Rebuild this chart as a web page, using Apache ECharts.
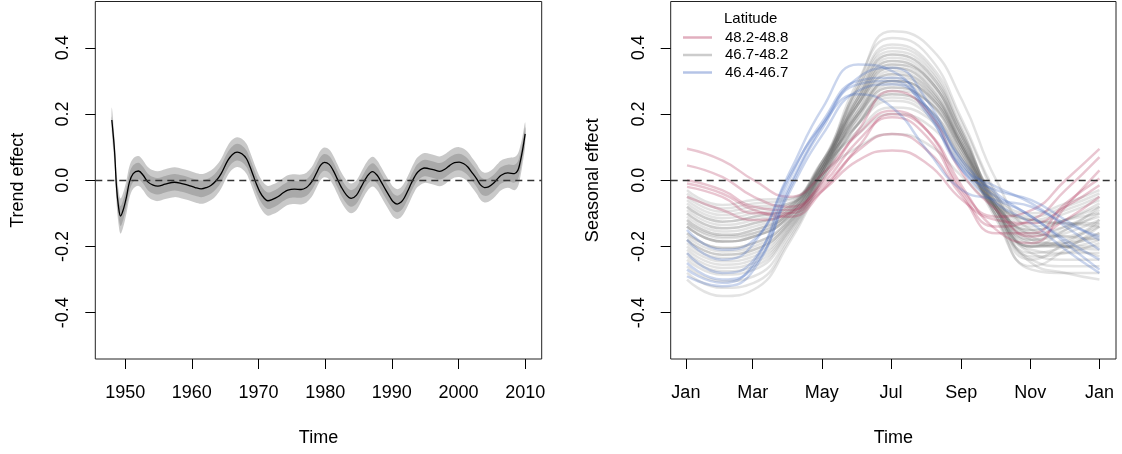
<!DOCTYPE html>
<html>
<head>
<meta charset="utf-8">
<script src="https://cdn.jsdelivr.net/npm/echarts@6/dist/echarts.min.js"></script>
<style>
  html, body { margin: 0; padding: 0; background: #fff; }
  #chart { width: 1122px; height: 454px; }
</style>
</head>
<body>
<div id="chart"></div>
<script>
// ---- left panel: long-term trend ----
const trendYears = [
  1948.0, 1948.4, 1948.7, 1949.0, 1949.3, 1949.7, 1950.2, 1950.65, 1951.2, 1952.0,
  1952.7, 1953.4, 1954.2, 1954.9, 1956.0, 1957.4, 1958.5, 1959.4, 1960.5, 1961.4,
  1962.2, 1962.9, 1963.7, 1964.4, 1965.4, 1966.1, 1966.8, 1967.5, 1968.2, 1968.7,
  1969.2, 1969.7, 1970.2, 1970.8, 1971.4, 1972.1, 1972.9, 1973.7, 1974.4, 1975.4,
  1976.4, 1977.2, 1977.7, 1978.2, 1978.7, 1979.3, 1979.9, 1980.6, 1981.2, 1981.8,
  1982.4, 1983.2, 1983.9, 1984.7, 1985.4, 1986.3, 1987.1, 1987.8, 1988.4, 1989.1,
  1989.7, 1990.2, 1990.8, 1991.4, 1991.9, 1992.4, 1992.9, 1993.4, 1993.9, 1994.9,
  1996.2, 1997.2, 1998.0, 1998.7, 1999.4, 2000.1, 2000.8, 2001.4, 2002.0, 2002.7,
  2003.3, 2003.9, 2004.5, 2005.2, 2005.8, 2006.4, 2007.4, 2008.4, 2008.9, 2009.2,
  2009.6, 2010.0
];
const trendFit = [
  0.182, 0.090, -0.020, -0.080, -0.108, -0.090, -0.050, -0.005, 0.020, 0.028,
  0.015, -0.005, -0.015, -0.018, -0.012, -0.006, -0.010, -0.015, -0.022, -0.026,
  -0.022, -0.015, 0.000, 0.020, 0.060, 0.078, 0.085, 0.080, 0.065, 0.042,
  0.015, -0.012, -0.035, -0.053, -0.062, -0.058, -0.050, -0.038, -0.030, -0.027,
  -0.028, -0.022, -0.012, 0.002, 0.022, 0.045, 0.054, 0.048, 0.030, 0.005,
  -0.020, -0.045, -0.055, -0.045, -0.020, 0.012, 0.026, 0.015, -0.005, -0.030,
  -0.050, -0.065, -0.072, -0.066, -0.052, -0.032, -0.010, 0.010, 0.025, 0.037,
  0.032, 0.027, 0.034, 0.045, 0.053, 0.055, 0.050, 0.040, 0.024, 0.005,
  -0.014, -0.022, -0.020, -0.010, 0.003, 0.015, 0.022, 0.020, 0.030, 0.050,
  0.090, 0.140
];
// half widths of the two confidence bands
const trendInnerHalf = [
  0.010, 0.018, 0.024, 0.028, 0.030, 0.030, 0.028, 0.027, 0.025, 0.025,
  0.025, 0.025, 0.025, 0.025, 0.025, 0.025, 0.025, 0.025, 0.025, 0.025,
  0.025, 0.025, 0.025, 0.025, 0.025, 0.025, 0.025, 0.025, 0.025, 0.025,
  0.025, 0.025, 0.025, 0.025, 0.025, 0.025, 0.025, 0.025, 0.025, 0.025,
  0.025, 0.025, 0.025, 0.025, 0.025, 0.025, 0.025, 0.025, 0.025, 0.025,
  0.025, 0.025, 0.025, 0.025, 0.025, 0.025, 0.025, 0.025, 0.025, 0.025,
  0.025, 0.025, 0.025, 0.025, 0.025, 0.025, 0.025, 0.025, 0.025, 0.025,
  0.025, 0.025, 0.025, 0.025, 0.025, 0.025, 0.025, 0.025, 0.025, 0.025,
  0.025, 0.025, 0.025, 0.025, 0.025, 0.025, 0.025, 0.027, 0.027, 0.026,
  0.024, 0.020
];
const trendOuterHalf = [
  0.038, 0.042, 0.048, 0.052, 0.053, 0.052, 0.050, 0.048, 0.046, 0.045,
  0.045, 0.045, 0.045, 0.045, 0.045, 0.045, 0.045, 0.045, 0.045, 0.045,
  0.045, 0.045, 0.045, 0.045, 0.045, 0.045, 0.045, 0.045, 0.045, 0.045,
  0.045, 0.045, 0.045, 0.045, 0.045, 0.045, 0.045, 0.045, 0.045, 0.045,
  0.045, 0.045, 0.045, 0.045, 0.045, 0.045, 0.045, 0.045, 0.045, 0.045,
  0.045, 0.045, 0.045, 0.045, 0.045, 0.045, 0.045, 0.045, 0.045, 0.045,
  0.045, 0.045, 0.045, 0.045, 0.045, 0.045, 0.045, 0.045, 0.045, 0.045,
  0.045, 0.045, 0.045, 0.045, 0.045, 0.045, 0.045, 0.045, 0.045, 0.045,
  0.045, 0.045, 0.045, 0.045, 0.045, 0.045, 0.045, 0.050, 0.050, 0.048,
  0.042, 0.035
];
const yearTicks = [1950, 1960, 1970, 1980, 1990, 2000, 2010];

// ---- right panel: seasonal curves, one per site ----
const seasonDays = [1, 32, 60, 91, 121, 152, 182, 213, 244, 274, 305, 335, 365];
const monthTickDays = [0, 59, 120, 181, 243, 304, 365];
const monthTickLabels = ['Jan', 'Mar', 'May', 'Jul', 'Sep', 'Nov', 'Jan'];
const effectTicks = [-0.4, -0.2, 0, 0.2, 0.4];
const latNames = ['48.2-48.8', '46.7-48.2', '46.4-46.7'];

const curvesNorth = [
  [0.095, 0.06, 0.00, -0.05, 0.02, 0.14, 0.21, 0.15, -0.03, -0.11, -0.09, 0.00, 0.095],
  [0.045, 0.01, -0.05, -0.08, -0.01, 0.12, 0.19, 0.13, -0.04, -0.14, -0.12, -0.03, 0.07],
  [0.00, -0.03, -0.08, -0.09, -0.02, 0.09, 0.14, 0.09, -0.05, -0.16, -0.16, -0.07, 0.005],
  [-0.02, -0.05, -0.10, -0.10, -0.03, 0.06, 0.09, 0.05, -0.06, -0.12, -0.13, -0.08, -0.015],
  [-0.05, -0.09, -0.12, -0.10, 0.00, 0.15, 0.27, 0.21, 0.02, -0.09, -0.17, -0.12, -0.05],
  [-0.01, -0.04, -0.09, -0.11, -0.03, 0.10, 0.20, 0.15, -0.02, -0.15, -0.19, -0.08, 0.03]
];
const curvesMid = [
  [-0.12, -0.165, -0.15, -0.10, 0.04, 0.29, 0.45, 0.41, 0.24, 0.00, -0.15, -0.17, -0.12],
  [-0.10, -0.145, -0.13, -0.09, 0.05, 0.30, 0.43, 0.38, 0.18, -0.04, -0.18, -0.15, -0.10],
  [-0.05, -0.095, -0.08, -0.07, 0.06, 0.28, 0.40, 0.35, 0.15, -0.06, -0.12, -0.09, -0.05],
  [-0.08, -0.125, -0.11, -0.08, 0.05, 0.27, 0.39, 0.34, 0.15, -0.07, -0.15, -0.12, -0.08],
  [-0.14, -0.185, -0.17, -0.11, 0.04, 0.26, 0.38, 0.33, 0.14, -0.08, -0.20, -0.18, -0.14],
  [-0.16, -0.205, -0.19, -0.12, 0.03, 0.25, 0.37, 0.32, 0.13, -0.09, -0.22, -0.20, -0.16],
  [-0.20, -0.245, -0.23, -0.14, 0.03, 0.24, 0.36, 0.31, 0.13, -0.08, -0.19, -0.20, -0.20],
  [-0.11, -0.155, -0.14, -0.095, 0.05, 0.24, 0.35, 0.30, 0.12, -0.08, -0.16, -0.14, -0.11],
  [-0.13, -0.175, -0.16, -0.105, 0.04, 0.23, 0.34, 0.29, 0.10, -0.11, -0.24, -0.19, -0.13],
  [-0.18, -0.225, -0.21, -0.13, 0.03, 0.22, 0.33, 0.28, 0.11, -0.09, -0.20, -0.20, -0.18],
  [-0.06, -0.105, -0.09, -0.07, 0.06, 0.23, 0.32, 0.27, 0.11, -0.06, -0.13, -0.10, -0.06],
  [-0.22, -0.265, -0.25, -0.15, 0.02, 0.20, 0.31, 0.27, 0.10, -0.09, -0.21, -0.22, -0.22],
  [-0.09, -0.135, -0.12, -0.085, 0.05, 0.21, 0.30, 0.26, 0.10, -0.08, -0.17, -0.14, -0.09],
  [-0.14, -0.185, -0.17, -0.11, 0.04, 0.20, 0.30, 0.26, 0.09, -0.12, -0.26, -0.21, -0.14],
  [-0.24, -0.285, -0.27, -0.16, 0.01, 0.19, 0.29, 0.25, 0.09, -0.10, -0.22, -0.24, -0.24],
  [-0.03, -0.075, -0.06, -0.055, 0.06, 0.20, 0.28, 0.24, 0.09, -0.05, -0.10, -0.07, -0.03],
  [-0.17, -0.215, -0.20, -0.125, 0.03, 0.19, 0.28, 0.24, 0.08, -0.09, -0.19, -0.19, -0.17],
  [-0.30, -0.35, -0.33, -0.19, 0.00, 0.17, 0.27, 0.24, 0.08, -0.11, -0.25, -0.28, -0.30],
  [-0.12, -0.165, -0.15, -0.10, 0.04, 0.18, 0.26, 0.22, 0.07, -0.09, -0.18, -0.16, -0.12],
  [-0.19, -0.235, -0.22, -0.135, 0.02, 0.17, 0.25, 0.21, 0.06, -0.10, -0.23, -0.22, -0.19],
  [-0.07, -0.115, -0.10, -0.075, 0.05, 0.17, 0.24, 0.20, 0.06, -0.08, -0.15, -0.12, -0.07],
  [-0.26, -0.305, -0.29, -0.17, 0.02, 0.23, 0.35, 0.31, 0.12, -0.09, -0.24, -0.26, -0.26],
  [-0.14, -0.185, -0.17, -0.11, 0.03, 0.15, 0.22, 0.19, 0.05, -0.07, -0.12, -0.13, -0.14],
  [-0.21, -0.255, -0.24, -0.145, 0.03, 0.25, 0.38, 0.33, 0.14, -0.07, -0.18, -0.20, -0.21],
  [-0.10, -0.145, -0.13, -0.09, 0.04, 0.14, 0.20, 0.17, 0.04, -0.08, -0.14, -0.12, -0.10],
  [-0.28, -0.325, -0.31, -0.18, 0.01, 0.21, 0.32, 0.28, 0.10, -0.11, -0.27, -0.28, -0.28],
  [-0.16, -0.205, -0.19, -0.12, 0.04, 0.28, 0.41, 0.36, 0.17, -0.05, -0.20, -0.19, -0.16],
  [-0.04, -0.085, -0.07, -0.06, 0.06, 0.25, 0.36, 0.31, 0.13, -0.05, -0.11, -0.08, -0.04],
  [-0.23, -0.275, -0.26, -0.155, 0.01, 0.17, 0.26, 0.22, 0.07, -0.08, -0.17, -0.20, -0.23],
  [-0.13, -0.17, -0.16, -0.10, 0.02, 0.10, 0.14, 0.11, 0.01, -0.08, -0.12, -0.13, -0.13],
  [-0.18, -0.225, -0.21, -0.13, 0.03, 0.20, 0.30, 0.26, 0.10, -0.07, -0.16, -0.17, -0.18],
  [-0.08, -0.125, -0.11, -0.08, 0.05, 0.23, 0.34, 0.29, 0.11, -0.09, -0.20, -0.15, -0.08]
];
const curvesSouth = [
  [-0.18, -0.24, -0.19, 0.02, 0.22, 0.35, 0.33, 0.21, 0.03, -0.03, -0.06, -0.12, -0.18],
  [-0.22, -0.28, -0.24, -0.02, 0.17, 0.31, 0.34, 0.24, 0.05, -0.05, -0.08, -0.13, -0.17],
  [-0.27, -0.31, -0.25, 0.00, 0.17, 0.26, 0.22, 0.09, -0.03, -0.06, -0.11, -0.19, -0.27],
  [-0.29, -0.32, -0.27, -0.03, 0.16, 0.29, 0.30, 0.20, 0.03, -0.07, -0.13, -0.21, -0.28],
  [-0.15, -0.21, -0.18, 0.01, 0.18, 0.30, 0.31, 0.22, 0.04, -0.02, -0.07, -0.14, -0.21],
  [-0.25, -0.30, -0.26, -0.04, 0.14, 0.27, 0.29, 0.22, 0.06, -0.04, -0.11, -0.18, -0.24]
];

const font = '"Liberation Sans", Arial, Helvetica, sans-serif';
const txt = { color: '#000', fontSize: 18, fontFamily: font };
const tickStyle = { color: '#000', width: 1 };

function yAxis(grid, name, gap) {
  return {
    type: 'value', gridIndex: grid, min: -0.54, max: 0.54,
    name: name, nameLocation: 'middle', nameGap: gap, nameTextStyle: txt,
    axisLine: { show: false, onZero: false },
    splitLine: { show: false },
    axisTick: { show: true, inside: false, length: 10, customValues: effectTicks, lineStyle: tickStyle },
    axisLabel: { customValues: effectTicks, rotate: 90, margin: 23, formatter: v => v.toFixed(1), ...txt }
  };
}

// confidence band drawn as one polygon through the axis scales
function bandSeries(half, color) {
  return {
    type: 'custom', xAxisIndex: 0, yAxisIndex: 0, silent: true, z: 1,
    data: [[trendYears[0], trendFit[0]]],
    renderItem: (params, api) => {
      const upper = trendYears.map((y, i) => api.coord([y, trendFit[i] + half[i]]));
      const lower = trendYears.map((y, i) => api.coord([y, trendFit[i] - half[i]])).reverse();
      return {
        type: 'polygon',
        shape: { points: upper.concat(lower), smooth: 0.35 },
        style: { fill: color }
      };
    }
  };
}

const series = [bandSeries(trendOuterHalf, '#c9c9c9'), bandSeries(trendInnerHalf, '#a9a9a9')];
const zeroLine = {
  silent: true, symbol: 'none', label: { show: false },
  lineStyle: { type: [7, 5], color: '#333', width: 1.3 },
  data: [{ yAxis: 0 }]
};
series.push({
  type: 'line', xAxisIndex: 0, yAxisIndex: 0,
  data: trendYears.map((y, i) => [y, trendFit[i]]),
  symbol: 'none', smooth: 0.35, silent: true,
  lineStyle: { color: '#000', width: 1.3 }, z: 3,
  markLine: zeroLine
});

const groups = [
  { name: latNames[1], curves: curvesMid, color: 'rgba(100,100,100,0.18)' },
  { name: latNames[0], curves: curvesNorth, color: 'rgba(175,45,85,0.27)' },
  { name: latNames[2], curves: curvesSouth, color: 'rgba(60,100,190,0.27)' }
];
groups.forEach(g => {
  g.curves.forEach(c => {
    series.push({
      type: 'line', name: g.name, xAxisIndex: 1, yAxisIndex: 1,
      data: seasonDays.map((d, i) => [d, c[i]]),
      symbol: 'none', smooth: true, silent: true,
      lineStyle: { color: g.color, width: 2.5 }, itemStyle: { color: g.color }
    });
  });
});
series[series.length - 1].markLine = zeroLine;

const legendColors = ['rgba(175,45,85,0.38)', 'rgba(100,100,100,0.33)', 'rgba(60,100,190,0.38)'];

const chart = echarts.init(document.getElementById('chart'));
chart.setOption({
  animation: false,
  title: {
    text: 'Latitude', left: 724, top: 11, padding: 0,
    textStyle: { fontSize: 15, fontWeight: 'normal', color: '#000', fontFamily: font }
  },
  legend: {
    orient: 'vertical', left: 683, top: 30, padding: 0,
    icon: 'rect', itemWidth: 29, itemHeight: 2.5, itemGap: 2.5,
    selectedMode: false,
    data: latNames.map((n, i) => ({ name: n, itemStyle: { color: legendColors[i] } })),
    textStyle: { fontSize: 15, lineHeight: 15, color: '#000', fontFamily: font, padding: [0, 0, 0, 8] }
  },
  grid: [
    { left: 95.3, top: 1.5, width: 446.4, height: 357.5, show: true, borderColor: '#222', borderWidth: 1 },
    { left: 670.7, top: 1.5, width: 445.3, height: 357.5, show: true, borderColor: '#222', borderWidth: 1 }
  ],
  xAxis: [
    {
      type: 'value', gridIndex: 0, min: 1945.52, max: 2012.48,
      name: 'Time', nameLocation: 'middle', nameGap: 70, nameTextStyle: txt,
      axisLine: { show: false, onZero: false }, splitLine: { show: false },
      axisTick: { show: true, inside: false, length: 10, customValues: yearTicks, lineStyle: tickStyle },
      axisLabel: { customValues: yearTicks, margin: 25, formatter: v => String(v), ...txt }
    },
    {
      type: 'value', gridIndex: 1, min: -13.4, max: 379.6,
      name: 'Time', nameLocation: 'middle', nameGap: 70, nameTextStyle: txt,
      axisLine: { show: false, onZero: false }, splitLine: { show: false },
      axisTick: { show: true, inside: false, length: 10, customValues: monthTickDays, lineStyle: tickStyle },
      axisLabel: { customValues: monthTickDays, margin: 25, formatter: v => monthTickLabels[monthTickDays.indexOf(v)], ...txt }
    }
  ],
  yAxis: [yAxis(0, 'Trend effect', 68), yAxis(1, 'Seasonal effect', 69)],
  series: series
});
</script>
</body>
</html>
